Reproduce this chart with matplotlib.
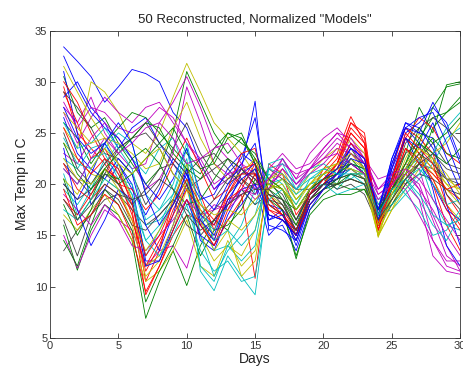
import matplotlib
matplotlib.use("Agg")
import matplotlib.pyplot as plt

# ---------------------------------------------
#  DATA  (one list per model)
# ---------------------------------------------
days = list(range(1, 31))

m01 = [33.4, 32.0, 30.5, 28.0, 29.5, 31.2, 30.8, 30.0, 27.0, 25.5, 22.0, 19.5, 21.0, 22.5, 26.5, 18.0, 17.5, 16.0, 19.5, 20.5, 21.5, 24.0, 22.0, 17.0, 20.5, 25.0, 26.0, 27.5, 26.0, 22.5]
m02 = [30.5, 27.0, 25.5, 26.5, 24.0, 22.0, 20.0, 21.5, 25.0, 31.0, 28.0, 25.0, 23.0, 24.5, 22.0, 18.0, 17.0, 15.0, 18.0, 19.5, 20.0, 22.5, 21.0, 16.0, 19.5, 23.0, 27.5, 25.0, 29.7, 30.0]
m03 = [29.5, 25.0, 23.5, 22.0, 20.0, 17.5, 9.2, 12.0, 15.0, 17.0, 16.5, 14.5, 18.5, 19.0, 10.8, 22.0, 21.0, 17.0, 19.0, 21.5, 23.0, 26.6, 24.0, 16.5, 20.0, 24.5, 23.0, 20.0, 16.0, 13.5]
m04 = [21.0, 17.0, 19.5, 22.5, 21.0, 19.0, 13.0, 15.5, 18.0, 22.0, 11.5, 9.6, 13.0, 11.0, 9.2, 19.5, 20.5, 18.5, 20.0, 20.5, 19.5, 21.0, 20.0, 17.0, 18.5, 21.5, 22.5, 18.5, 16.0, 15.5]
m05 = [27.5, 26.0, 28.5, 25.0, 23.0, 21.5, 22.0, 26.0, 28.0, 30.5, 27.5, 24.0, 22.5, 21.5, 20.0, 19.5, 22.5, 20.5, 23.0, 24.5, 25.5, 24.0, 23.0, 19.0, 20.0, 22.0, 21.5, 17.0, 14.0, 11.5]
m06 = [25.5, 23.5, 30.0, 29.0, 27.0, 24.0, 23.0, 25.0, 28.5, 31.8, 29.0, 26.0, 24.5, 23.0, 21.0, 20.5, 19.5, 18.0, 20.0, 21.5, 22.0, 24.5, 23.0, 14.8, 19.0, 22.5, 25.0, 22.0, 20.0, 18.5]
m07 = [22.0, 20.5, 19.0, 21.0, 23.5, 24.5, 25.0, 23.5, 21.0, 19.5, 20.5, 21.5, 22.5, 20.5, 19.0, 21.5, 20.5, 19.5, 19.5, 20.0, 21.0, 21.5, 20.5, 17.5, 19.5, 21.0, 22.0, 21.5, 20.5, 20.0]
m08 = [31.0, 25.0, 18.0, 19.5, 22.0, 20.0, 12.5, 12.5, 16.0, 20.0, 14.5, 13.5, 17.0, 19.5, 20.0, 15.0, 16.5, 15.5, 19.0, 20.5, 21.0, 22.0, 21.5, 16.0, 22.0, 25.5, 24.0, 19.5, 14.0, 12.0]
m09 = [16.0, 11.6, 15.5, 18.0, 17.0, 14.5, 6.9, 10.5, 13.5, 10.1, 14.0, 16.5, 15.5, 18.5, 21.0, 19.0, 17.5, 12.7, 17.5, 19.0, 20.0, 19.5, 19.5, 16.5, 18.5, 21.0, 24.0, 27.5, 29.5, 29.8]
m10 = [29.0, 26.0, 22.5, 23.5, 21.0, 18.5, 10.5, 13.5, 18.5, 21.5, 19.0, 15.5, 19.0, 21.5, 22.0, 17.0, 16.5, 15.0, 19.5, 21.0, 22.5, 26.0, 24.5, 16.0, 21.5, 25.5, 24.5, 23.0, 19.0, 17.0]
m11 = [19.5, 18.0, 20.0, 22.0, 24.0, 22.5, 21.0, 23.5, 24.5, 21.0, 17.0, 15.5, 18.0, 19.5, 18.0, 21.0, 20.0, 18.0, 20.5, 21.0, 20.0, 20.5, 21.5, 18.5, 19.0, 20.5, 18.5, 16.0, 14.5, 17.0]
m12 = [15.0, 11.8, 15.0, 17.5, 16.5, 15.5, 12.0, 13.5, 14.0, 11.8, 16.5, 18.0, 17.5, 19.0, 20.0, 21.5, 23.0, 21.5, 22.0, 23.5, 25.0, 24.5, 22.5, 20.5, 21.0, 20.0, 18.5, 13.0, 11.5, 11.2]
m13 = [24.0, 22.5, 21.0, 20.5, 19.5, 16.0, 11.0, 12.5, 15.5, 19.5, 15.0, 12.5, 14.0, 13.0, 15.5, 20.5, 21.5, 19.0, 21.0, 22.5, 23.5, 22.0, 21.0, 15.5, 18.0, 20.5, 22.0, 20.5, 18.0, 16.5]
m14 = [13.5, 15.5, 17.0, 18.5, 19.0, 17.5, 16.0, 17.0, 18.5, 17.5, 16.0, 17.5, 19.0, 20.5, 19.5, 20.0, 19.0, 16.5, 19.5, 20.5, 19.5, 20.0, 19.0, 16.0, 18.5, 20.5, 22.5, 24.0, 22.0, 21.5]
m15 = [28.5, 30.0, 27.5, 26.0, 23.5, 25.5, 26.5, 24.0, 22.0, 20.5, 17.0, 16.0, 19.5, 21.5, 28.1, 15.5, 16.0, 13.5, 17.5, 19.5, 20.5, 23.0, 22.0, 17.5, 21.5, 26.0, 25.0, 24.5, 18.0, 14.0]
m16 = [26.0, 24.5, 22.0, 24.0, 25.5, 27.0, 26.5, 25.0, 23.5, 22.0, 21.0, 23.5, 25.0, 24.0, 23.0, 20.5, 18.5, 17.5, 19.5, 21.0, 21.5, 23.5, 21.5, 17.0, 19.5, 22.0, 24.5, 26.5, 27.0, 28.0]
m17 = [18.5, 17.0, 19.0, 21.5, 20.5, 17.0, 11.5, 14.0, 17.5, 20.0, 16.0, 14.0, 17.5, 20.0, 22.5, 19.0, 17.5, 15.5, 19.0, 20.0, 21.5, 25.0, 23.5, 15.5, 20.5, 24.5, 23.0, 21.5, 19.5, 18.5]
m18 = [22.5, 21.5, 23.5, 24.0, 21.5, 19.0, 14.5, 16.0, 19.0, 23.5, 17.0, 13.5, 14.0, 12.5, 14.0, 22.0, 22.5, 20.0, 21.5, 22.0, 21.0, 20.5, 20.0, 17.0, 17.5, 19.0, 20.5, 22.0, 24.5, 25.5]
m19 = [27.0, 24.0, 26.5, 28.5, 27.0, 26.0, 27.5, 28.0, 26.0, 24.0, 22.0, 19.5, 20.5, 22.0, 21.0, 20.0, 21.0, 19.5, 21.5, 23.0, 24.5, 23.5, 22.0, 18.0, 19.5, 21.0, 20.0, 16.5, 13.0, 12.0]
m20 = [17.0, 15.5, 17.5, 19.0, 17.0, 14.5, 10.5, 11.5, 13.5, 16.5, 12.0, 11.0, 14.5, 12.0, 13.5, 19.5, 20.0, 17.5, 19.0, 20.5, 20.0, 20.5, 20.0, 15.0, 17.5, 19.5, 21.5, 23.0, 24.0, 26.0]
m21 = [29.0, 27.5, 25.5, 23.0, 22.5, 21.0, 18.0, 20.0, 23.5, 26.0, 23.0, 21.0, 20.0, 21.0, 21.0, 18.0, 17.0, 14.5, 18.5, 20.0, 21.0, 23.0, 22.0, 17.0, 20.0, 24.0, 25.5, 26.5, 25.5, 24.0]
m22 = [20.0, 18.5, 21.0, 24.0, 22.0, 19.5, 17.0, 19.5, 22.5, 21.0, 18.5, 19.0, 21.5, 23.0, 22.0, 16.5, 17.5, 14.0, 18.0, 19.5, 20.5, 21.5, 20.5, 16.5, 21.5, 24.5, 22.0, 20.0, 17.5, 16.5]
m23 = [14.5, 12.0, 16.0, 19.5, 18.0, 15.5, 8.5, 11.5, 14.0, 17.0, 13.0, 15.5, 16.0, 17.5, 20.5, 18.5, 17.5, 13.0, 17.0, 18.5, 19.0, 19.0, 19.5, 17.0, 18.0, 20.0, 22.0, 25.5, 27.0, 28.5]
m24 = [30.0, 28.0, 25.0, 22.5, 20.0, 19.5, 17.5, 19.0, 22.0, 24.5, 21.5, 18.5, 19.5, 23.0, 23.5, 18.0, 17.0, 15.5, 19.0, 20.5, 22.0, 26.0, 25.0, 16.0, 20.5, 24.5, 26.5, 25.5, 23.0, 22.0]
m25 = [21.5, 20.0, 22.5, 23.0, 20.5, 20.0, 16.0, 16.5, 18.0, 20.5, 12.0, 10.5, 14.0, 16.0, 19.5, 20.0, 20.5, 19.0, 20.0, 20.5, 20.5, 21.5, 21.0, 18.0, 20.5, 19.0, 17.5, 15.0, 15.5, 17.5]
m26 = [23.0, 22.0, 24.5, 26.0, 24.5, 22.5, 19.5, 20.5, 23.0, 29.5, 26.0, 22.0, 21.0, 20.0, 18.5, 19.5, 21.5, 20.0, 21.0, 22.0, 23.5, 23.0, 22.0, 19.5, 20.5, 21.0, 19.5, 17.5, 15.0, 13.0]
m27 = [31.5, 29.0, 26.5, 24.5, 24.0, 23.0, 21.5, 22.0, 25.5, 28.0, 24.5, 22.0, 20.5, 21.0, 22.5, 19.0, 18.0, 16.0, 19.0, 20.5, 21.0, 22.5, 21.5, 15.0, 19.5, 22.0, 23.5, 22.5, 21.0, 19.0]
m28 = [16.5, 13.0, 17.0, 19.5, 18.5, 16.0, 15.5, 17.0, 18.5, 16.0, 15.0, 16.5, 18.0, 19.5, 18.0, 19.0, 18.5, 15.0, 18.5, 19.5, 20.0, 20.5, 20.0, 16.0, 18.0, 20.0, 21.0, 20.5, 19.5, 19.0]
m29 = [26.5, 23.0, 21.5, 20.5, 22.5, 21.0, 16.0, 13.5, 17.0, 21.5, 16.0, 14.5, 18.0, 21.0, 22.0, 16.0, 15.5, 14.5, 18.5, 20.0, 21.0, 23.5, 22.5, 17.0, 22.5, 26.0, 25.5, 23.5, 20.5, 18.0]
m30 = [18.0, 15.0, 17.5, 21.0, 20.5, 22.5, 23.5, 22.0, 19.5, 18.0, 18.5, 20.5, 22.5, 21.5, 20.0, 20.0, 19.5, 16.5, 19.0, 20.0, 20.0, 21.0, 21.0, 17.5, 19.0, 21.0, 23.0, 24.5, 23.0, 22.5]
m31 = [22.0, 19.5, 18.5, 20.0, 19.0, 16.5, 12.0, 14.5, 17.0, 19.5, 17.5, 16.0, 18.5, 19.5, 22.0, 17.5, 16.5, 15.0, 18.0, 19.5, 21.0, 24.0, 22.5, 15.5, 19.5, 23.5, 22.5, 20.5, 17.5, 15.5]
m32 = [24.5, 22.0, 21.5, 23.5, 25.0, 24.0, 19.0, 17.5, 19.0, 22.5, 15.0, 11.0, 13.5, 15.0, 17.0, 21.5, 21.0, 19.5, 20.5, 21.5, 21.0, 22.0, 21.5, 16.5, 19.0, 20.5, 21.5, 20.0, 18.0, 18.5]
m33 = [19.0, 17.5, 16.0, 18.0, 16.5, 14.0, 13.5, 15.0, 16.5, 18.5, 17.0, 17.5, 18.0, 19.5, 19.0, 20.5, 22.0, 21.0, 21.5, 22.5, 24.0, 23.0, 21.5, 19.0, 20.0, 19.5, 17.0, 14.5, 12.5, 12.5]
m34 = [20.5, 19.0, 21.5, 23.5, 22.0, 18.5, 12.0, 13.0, 16.0, 20.5, 16.5, 13.5, 15.5, 11.0, 12.5, 20.5, 21.0, 18.5, 20.0, 21.5, 22.0, 21.5, 20.5, 14.9, 17.5, 20.5, 22.5, 21.0, 19.5, 18.0]
m35 = [25.0, 21.5, 20.0, 22.0, 23.5, 24.5, 26.0, 24.0, 22.5, 21.0, 22.5, 23.0, 21.5, 20.0, 21.5, 18.5, 18.0, 15.5, 19.0, 20.5, 21.5, 22.0, 21.0, 17.5, 20.5, 23.0, 24.0, 22.5, 19.0, 17.5]
m36 = [23.5, 17.5, 14.0, 16.5, 19.5, 18.5, 12.0, 12.5, 15.5, 18.5, 15.0, 14.0, 16.5, 18.0, 20.0, 17.0, 16.5, 15.0, 18.5, 20.0, 20.5, 22.0, 21.0, 16.5, 21.0, 24.5, 23.5, 26.0, 22.5, 19.5]
m37 = [20.5, 16.5, 18.5, 21.5, 20.0, 21.0, 22.5, 24.0, 25.5, 23.0, 21.5, 22.0, 24.5, 25.0, 22.0, 19.5, 18.5, 16.0, 18.5, 19.5, 20.5, 21.0, 20.5, 17.0, 19.5, 21.5, 24.0, 23.0, 22.0, 23.5]
m38 = [19.5, 16.0, 17.0, 19.0, 18.0, 15.0, 9.5, 12.0, 15.5, 18.5, 16.0, 14.0, 16.5, 18.5, 21.0, 18.5, 17.0, 15.0, 18.5, 20.0, 22.0, 25.5, 24.0, 15.5, 20.0, 23.5, 22.0, 21.0, 19.5, 20.0]
m39 = [17.5, 16.5, 18.5, 20.5, 19.5, 18.0, 14.5, 13.0, 15.0, 18.0, 13.5, 11.5, 12.5, 10.5, 11.0, 18.5, 19.5, 17.5, 19.5, 20.0, 19.0, 19.5, 20.0, 17.0, 18.0, 19.5, 21.0, 23.0, 25.5, 27.0]
m40 = [28.0, 25.5, 27.5, 27.0, 25.5, 25.0, 26.0, 27.5, 26.5, 24.0, 22.5, 20.0, 21.0, 21.5, 20.5, 19.5, 21.5, 20.0, 21.5, 23.5, 25.0, 23.5, 22.5, 19.5, 21.0, 21.5, 19.5, 14.5, 12.0, 11.5]
m41 = [22.5, 20.5, 20.0, 21.5, 19.5, 16.5, 13.5, 15.5, 18.5, 22.0, 17.5, 15.0, 16.5, 15.5, 17.0, 19.5, 20.5, 18.5, 20.0, 21.0, 21.5, 21.5, 21.0, 15.2, 18.5, 21.0, 23.0, 21.5, 20.0, 19.5]
m42 = [20.0, 18.5, 19.5, 21.0, 20.0, 18.0, 19.5, 21.5, 22.0, 20.0, 17.0, 18.5, 20.5, 21.5, 20.5, 19.0, 18.5, 16.5, 19.0, 20.0, 20.5, 21.0, 20.5, 17.0, 19.5, 21.5, 23.0, 22.0, 20.5, 20.5]
m43 = [32.5, 29.5, 27.0, 25.5, 24.5, 22.5, 20.0, 18.5, 20.5, 23.5, 19.0, 17.5, 20.0, 22.0, 24.0, 17.0, 16.5, 15.0, 19.0, 20.5, 21.5, 23.5, 22.5, 17.5, 22.0, 25.5, 26.5, 27.0, 24.0, 20.5]
m44 = [24.0, 21.0, 19.5, 21.5, 23.0, 24.5, 26.0, 25.5, 23.0, 21.5, 20.5, 22.5, 25.0, 24.5, 22.5, 20.5, 19.5, 17.5, 19.5, 20.5, 21.0, 22.0, 21.5, 17.5, 19.5, 22.0, 25.5, 24.0, 25.0, 26.5]
m45 = [25.5, 22.5, 21.0, 22.5, 21.5, 18.0, 13.0, 15.0, 18.0, 20.5, 18.0, 16.5, 19.0, 21.0, 21.0, 17.5, 17.0, 15.5, 19.0, 20.5, 22.0, 25.0, 23.5, 16.0, 20.5, 25.0, 23.5, 22.0, 18.0, 16.0]
m46 = [26.0, 23.5, 24.0, 25.5, 23.5, 21.5, 16.5, 17.5, 20.0, 24.0, 18.5, 14.5, 15.5, 14.0, 15.5, 21.5, 22.0, 19.5, 21.0, 21.5, 21.0, 21.0, 21.0, 17.0, 19.5, 20.5, 19.0, 17.0, 16.0, 16.5]
m47 = [21.5, 20.0, 22.5, 24.5, 23.0, 24.0, 25.5, 26.0, 24.5, 22.0, 22.5, 23.5, 24.0, 22.0, 19.5, 20.5, 22.5, 20.5, 21.5, 22.5, 23.0, 22.0, 21.0, 18.5, 20.0, 21.5, 20.5, 18.5, 16.5, 14.5]
m48 = [27.0, 25.5, 24.0, 24.5, 22.0, 21.0, 22.5, 23.5, 21.0, 19.5, 18.0, 17.0, 17.5, 17.0, 18.5, 20.0, 19.5, 17.5, 19.5, 21.0, 22.0, 23.0, 21.5, 16.0, 19.0, 21.5, 23.5, 22.5, 20.5, 19.5]
m49 = [18.5, 16.5, 18.0, 20.0, 19.0, 18.5, 19.0, 20.5, 19.5, 17.0, 15.5, 16.5, 18.0, 19.0, 19.5, 19.5, 18.0, 15.5, 18.5, 20.0, 20.0, 20.5, 20.0, 16.5, 18.5, 20.5, 22.0, 23.0, 21.5, 21.0]
m50 = [27.5, 24.5, 23.0, 24.0, 26.0, 24.0, 19.0, 16.0, 18.0, 21.0, 16.5, 15.0, 18.5, 20.5, 21.5, 16.5, 17.0, 14.5, 18.0, 19.5, 21.0, 22.5, 22.0, 17.5, 22.5, 25.5, 25.0, 28.0, 25.5, 22.0]

models = [m01, m02, m03, m04, m05, m06, m07, m08, m09, m10,
          m11, m12, m13, m14, m15, m16, m17, m18, m19, m20,
          m21, m22, m23, m24, m25, m26, m27, m28, m29, m30,
          m31, m32, m33, m34, m35, m36, m37, m38, m39, m40,
          m41, m42, m43, m44, m45, m46, m47, m48, m49, m50]

# old MATLAB colour order: b g r c m y k
COLORS = [(0, 0, 1), (0, 0.5, 0), (1, 0, 0), (0, 0.75, 0.75),
          (0.75, 0, 0.75), (0.75, 0.75, 0), (0.25, 0.25, 0.25)]

plt.rcParams['font.family'] = ['Liberation Sans', 'DejaVu Sans']

fig = plt.figure(figsize=(4.63, 3.77), dpi=100)
ax = fig.add_axes([0.108, 0.104, 0.886, 0.815])

for i, m in enumerate(models):
    ax.plot(days, m, color=COLORS[i % len(COLORS)], lw=0.6)

ax.set_xlim(0, 30)
ax.set_ylim(5, 35)
ax.set_xticks([0, 5, 10, 15, 20, 25, 30])
ax.set_yticks([5, 10, 15, 20, 25, 30, 35])
ax.tick_params(direction='in', length=3.5, width=0.6, labelsize=8,
               colors='#333333', top=True, right=True, pad=2)
for s in ax.spines.values():
    s.set_linewidth(0.6)
    s.set_color('#333333')

ax.set_title('50 Reconstructed, Normalized "Models"', fontsize=9.5, color='#222222', pad=6)
ax.set_xlabel('Days', fontsize=10, color='#222222', labelpad=1)
ax.set_ylabel('Max Temp in C', fontsize=10, color='#222222', labelpad=4)

fig.savefig('out.png', dpi=100)
